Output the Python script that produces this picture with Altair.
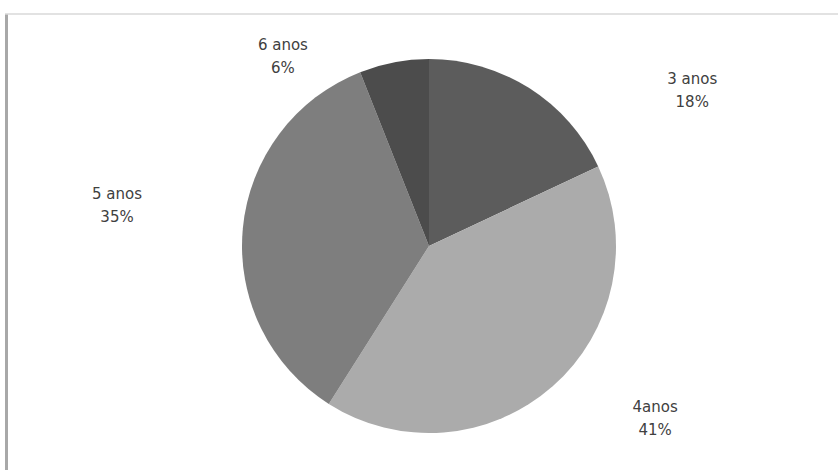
import altair as alt
import pandas as pd

categories = ["3 anos", "4anos", "5 anos", "6 anos"]
percents = [18, 41, 35, 6]
colors = ["#5c5c5c", "#ababab", "#7e7e7e", "#4c4c4c"]

df = pd.DataFrame({"cat": categories, "pct": percents, "idx": list(range(len(categories)))})
df["label"] = [f"{c}\n{p}%" for c, p in zip(categories, percents)]

# label offsets (pixels) from the slice mid-angle anchor
label_offsets = {"3 anos": (140, 27), "4anos": (74, -12), "5 anos": (-83, -30), "6 anos": (-103, 25)}

base = (
    alt.Chart(df)
    .transform_stack(stack="pct", as_=["s0", "s1"], groupby=[],
                     sort=[alt.SortField("idx", order="ascending")])
    .transform_calculate(mid="(datum.s0 + datum.s1) / 2")
)
theta_scale = alt.Scale(domain=[0, 100])

arcs = base.mark_arc(outerRadius=187).encode(
    theta=alt.Theta("s0:Q", scale=theta_scale),
    theta2="s1:Q",
    color=alt.Color("cat:N", scale=alt.Scale(domain=categories, range=colors), legend=None),
)

layers = [arcs]
for cat in categories:
    dx, dy = label_offsets[cat]
    t = base.transform_filter(alt.datum.cat == cat).mark_text(
        radius=230, dx=dx, dy=dy, font="DejaVu Sans", fontSize=15, color="#404040",
        lineBreak="\n", lineHeight=23, align="center", baseline="middle",
    ).encode(
        theta=alt.Theta("mid:Q", scale=theta_scale),
        text="label:N",
    )
    layers.append(t)

frame_df = pd.DataFrame({"a": [0]})
left_line = alt.Chart(frame_df).mark_rule(color="#a8a8a8", strokeWidth=3).encode(
    x=alt.value(-13.5), y=alt.value(-8), y2=alt.value(448)
)
top_line = alt.Chart(frame_df).mark_rule(color="#d9d9d9", strokeWidth=1.5).encode(
    x=alt.value(-15), x2=alt.value(818), y=alt.value(-8)
)
layers += [left_line, top_line]

chart = (
    alt.layer(*layers)
    .properties(width=818, height=448, autosize=alt.AutoSizeParams(type="none"),
                padding={"left": 20, "top": 22, "right": 0, "bottom": 0},
                background="white")
    .configure_view(stroke=None)
)

chart.save("out.html", embed_options={"renderer": "svg", "actions": False})
